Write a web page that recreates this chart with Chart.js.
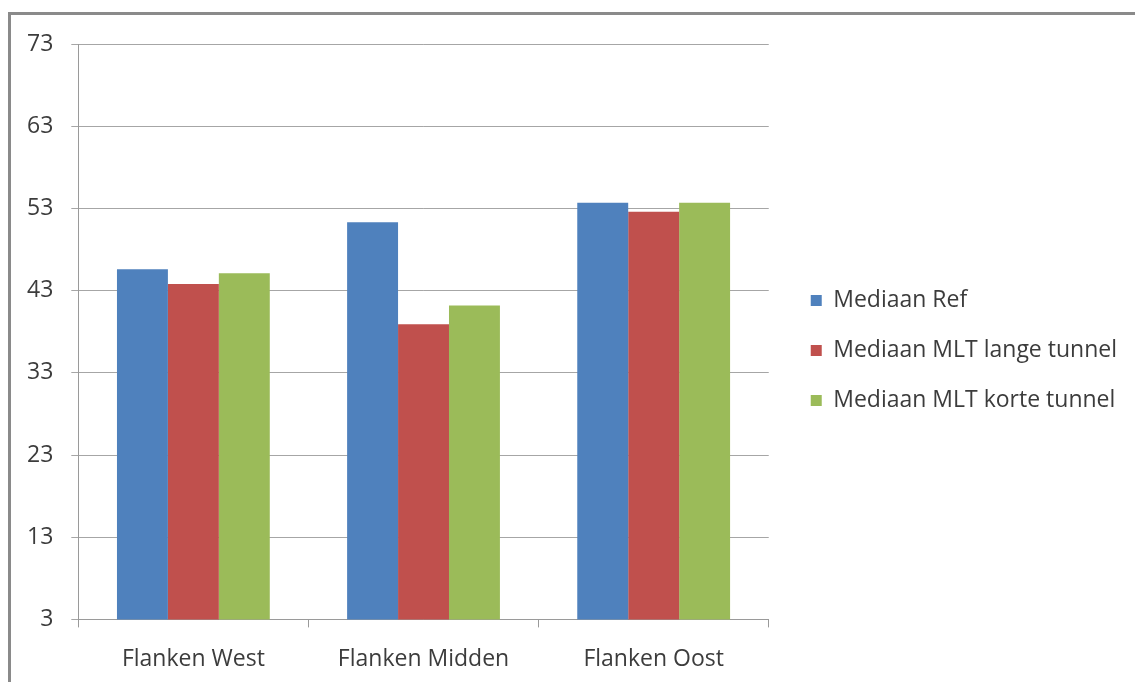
<!DOCTYPE html>
<html>
<head>
<meta charset="utf-8">
<script src="https://cdn.jsdelivr.net/npm/chart.js@4.4.1/dist/chart.umd.min.js"></script>
<style>
  html, body { margin:0; padding:0; background:#fff; width:1135px; height:682px; overflow:hidden; }
  #frame { position:absolute; left:8px; top:12px; width:1140px; height:690px; border-left:3px solid #8a8a8a; border-top:3px solid #8a8a8a; box-sizing:border-box; }
  #wrap { position:absolute; left:0; top:0; width:1135px; height:691px; }
</style>
</head>
<body>
<div id="frame"></div>
<div id="wrap"><canvas id="chart"></canvas></div>
<script>
// categorieën en reeksen
const categories = ['Flanken West', 'Flanken Midden', 'Flanken Oost'];
const seriesNames = ['Mediaan Ref', 'Mediaan MLT lange tunnel', 'Mediaan MLT korte tunnel'];
const mediaanRef = [45.6, 51.3, 53.7];
const mediaanLange = [43.8, 38.9, 52.6];
const mediaanKorte = [45.1, 41.2, 53.7];
const yTicks = [3, 13, 23, 33, 43, 53, 63, 73];
const colors = ['#4F81BD', '#C0504D', '#9BBB59'];

const txt = '#3c3c3c';
const fontFam = '"Open Sans", Lato, sans-serif';

// extra ruimte tussen plot en legenda, en legenda iets hoger
const legendGap = {
  id: 'legendGap',
  afterInit(chart) {
    const lg = chart.legend;
    const fit = lg.fit, draw = lg.draw;
    lg.fit = function () { fit.call(this); this.width += 15; };
    lg.draw = function () {
      this.left += 15; this.top -= 17; this.bottom -= 17;
      draw.call(this);
      this.left -= 15; this.top += 17; this.bottom += 17;
    };
  }
};

const ctx = document.getElementById('chart').getContext('2d');
new Chart(ctx, {
  type: 'bar',
  data: {
    labels: categories,
    datasets: [mediaanRef, mediaanLange, mediaanKorte].map((d, i) => ({
      label: seriesNames[i], data: d, backgroundColor: colors[i], borderWidth: 0,
      categoryPercentage: 0.664, barPercentage: 1
    }))
  },
  options: {
    responsive: true, maintainAspectRatio: false, animation: false,
    layout: { padding: { left: 9, top: 44, right: 8, bottom: 0 } },
    plugins: {
      tooltip: { enabled: false },
      legend: {
        position: 'right', maxWidth: 440,
        labels: { boxWidth: 11, boxHeight: 11, padding: 27, color: txt, font: { family: fontFam, size: 23 } }
      }
    },
    scales: {
      x: {
        grid: { offset: true, drawOnChartArea: false, color: '#9a9a9a', tickLength: 8 },
        border: { color: '#9a9a9a' },
        ticks: { color: txt, padding: 18, font: { family: fontFam, size: 23 } }
      },
      y: {
        min: 3, max: 73,
        afterBuildTicks: axis => { axis.ticks = yTicks.map(v => ({ value: v })); },
        grid: { color: '#a6a6a6', tickLength: 7 },
        border: { color: '#9a9a9a' },
        ticks: { color: txt, padding: 18, font: { family: fontFam, size: 23 } }
      }
    }
  },
  plugins: [legendGap]
});
</script>
</body>
</html>
